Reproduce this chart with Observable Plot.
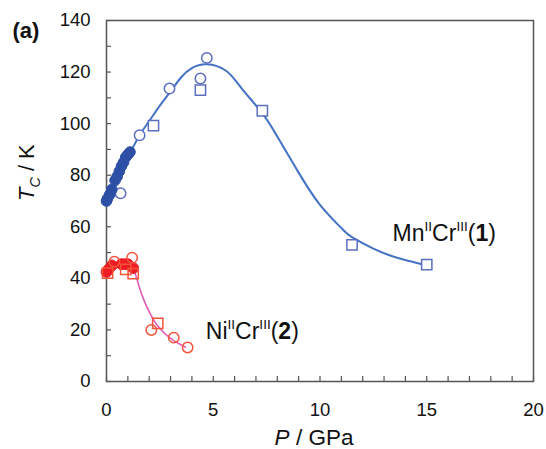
<!DOCTYPE html>
<html>
<head>
<meta charset="utf-8">
<script src="https://cdn.jsdelivr.net/npm/d3@7"></script>
<script src="https://cdn.jsdelivr.net/npm/@observablehq/plot@0.6"></script>
<style>
  html, body { margin: 0; padding: 0; background: #fff; }
</style>
</head>
<body>
<div id="chart"></div>
<script>
// ---- data ----
// Mn(II)Cr(III) (1)
const mnFilledP = [0, 0.05, 0.15, 0.25, 0.4, 0.5, 0.6, 0.7, 0.8, 0.9, 1.0, 1.1];
const mnFilledT = [70, 71, 72.5, 74.5, 78, 79.5, 81.5, 83.5, 85, 87, 88, 89];
const mnCircleP = [0.66, 1.55, 2.95, 4.4, 4.7];
const mnCircleT = [73, 95.5, 113.6, 117.5, 125.5];
const mnSquareP = [2.2, 4.4, 7.3, 11.5, 15];
const mnSquareT = [99.2, 113, 105, 53, 45.3];
const mnFitP = [0, 0.5, 1, 1.55, 2, 2.5, 3, 3.5, 4, 4.7, 5.6, 6.3, 7.3, 8, 9, 10, 11, 11.5, 12.5, 13.5, 15];
const mnFitT = [70, 79, 87, 95.5, 101, 107, 112.5, 118, 121.5, 123, 120.5, 114, 104, 95, 81, 68.5, 59.5, 56, 51.5, 48.3, 45];
// Ni(II)Cr(III) (2)
const niFilledP = [0, 0.1, 0.25, 0.7, 0.85, 1.0, 1.25];
const niFilledT = [42.5, 43.5, 45, 45.5, 45.5, 45.5, 44];
const niCircleP = [0.37, 1.2, 2.1, 3.15, 3.8];
const niCircleT = [46.5, 48, 20, 17, 13.2];
const niSquareP = [0.05, 0.9, 1.25, 2.4];
const niSquareT = [42, 43.5, 41.8, 22.5];
const niFitP = [0, 0.6, 1.2, 1.5, 1.83, 2.1, 2.4, 3, 3.7];
const niFitT = [43.5, 44.5, 44, 37.5, 30, 25.5, 21.5, 16.7, 13.3];
// axes
const xTicks = [0, 5, 10, 15, 20];
const yTicks = [0, 20, 40, 60, 80, 100, 120, 140];
const xMinor = d3.range(0, 21, 1);
const yMinor = d3.range(0, 141, 10);
// labels: [text pieces, style] ; n normal, sup superscript, b bold, i italic, isub italic subscript
const mnLabel = [["Mn","n"],["II","sup"],["Cr","n"],["III","sup"],["(","n"],["1","b"],[")","n"]];
const niLabel = [["Ni","n"],["II","sup"],["Cr","n"],["III","sup"],["(","n"],["2","b"],[")","n"]];
const yLabel = [["T","i"],["C","isub"],[" / K","n"]];
const xLabel = [["P","i"],[" / GPa","n"]];
const annotations = [
  {P: 13.4, T: 57.5, parts: mnLabel},
  {P: 4.65, T: 19.5, parts: niLabel}
];

const pts = (P, T) => P.map((p, i) => ({P: p, T: T[i]}));
const plain = parts => parts.map(d => d[0]).join("");

const blue = "#4472c4", blueDark = "#2d50a6", blueOpen = "#5b6ec0";
const red = "#ee1c24", redOpen = "#f2553a", pink = "#e05cb4";

const chart = Plot.plot({
  width: 546,
  height: 449,
  marginLeft: 106,
  marginRight: 13,
  marginTop: 20,
  marginBottom: 68,
  style: {fontFamily: "'Liberation Sans', Arial, sans-serif", fontSize: "18px", background: "#fff", color: "#000", overflow: "visible"},
  x: {domain: [0, 20]},
  y: {domain: [0, 140]},
  marks: [
    Plot.axisX(xMinor, {tickSize: -5, tickFormat: () => "", label: null, stroke: "#555", strokeWidth: 1.2}),
    Plot.axisY(yMinor, {tickSize: -5, tickFormat: () => "", label: null, stroke: "#555", strokeWidth: 1.2}),
    Plot.axisX(xTicks, {tickSize: 0, tickPadding: 21, label: null, fontSize: 18.5, fill: "#111"}),
    Plot.axisY(yTicks, {tickSize: 0, tickPadding: 16, label: null, fontSize: 18.5, fill: "#111"}),
    Plot.frame({stroke: "#555", strokeWidth: 1.5}),
    Plot.line(pts(mnFitP, mnFitT), {x: "P", y: "T", curve: "natural", stroke: blue, strokeWidth: 2}),
    Plot.line(pts(niFitP, niFitT), {x: "P", y: "T", curve: "natural", stroke: pink, strokeWidth: 1.6}),
    Plot.dot(pts(mnCircleP, mnCircleT), {x: "P", y: "T", r: 5.2, stroke: blueOpen, strokeWidth: 1.5, fill: "#fff"}),
    Plot.dot(pts(mnFilledP, mnFilledT), {x: "P", y: "T", r: 5.3, fill: blueDark, stroke: blueDark, strokeWidth: 1}),
    Plot.dot(pts(mnSquareP, mnSquareT), {x: "P", y: "T", r: 5.8, symbol: "square", stroke: blueOpen, strokeWidth: 1.5, fill: "#fff"}),
    Plot.dot(pts(niFilledP, niFilledT), {x: "P", y: "T", r: 5.4, fill: red, stroke: red, strokeWidth: 1}),
    Plot.dot(pts(niCircleP, niCircleT), {x: "P", y: "T", r: 5.2, stroke: redOpen, strokeWidth: 1.5, fill: "none"}),
    Plot.dot(pts(niSquareP, niSquareT), {x: "P", y: "T", r: 5.8, symbol: "square", stroke: redOpen, strokeWidth: 1.5, fill: "none"}),
    Plot.text(annotations, {x: "P", y: "T", text: d => plain(d.parts), textAnchor: "start", lineAnchor: "middle", fontSize: 23, fill: "#111"}),
    Plot.text([plain(yLabel)], {frameAnchor: "left", dx: -80, rotate: -90, lineAnchor: "middle", fontSize: 22, fill: "#111"}),
    Plot.text([plain(xLabel)], {frameAnchor: "bottom", dx: -6, dy: 56, lineAnchor: "middle", fontSize: 22.5, fill: "#111"}),
    Plot.text(["(a)"], {frameAnchor: "top-left", dx: -94, dy: 10, textAnchor: "start", lineAnchor: "middle", fontSize: 22, fontWeight: "bold", fill: "#111"})
  ]
});

// Rich-text formatting (superscripts, italics, bold) for the label strings
function richify(svg, parts) {
  const target = plain(parts);
  svg.querySelectorAll("text").forEach(t => {
    if (t.textContent !== target) return;
    const fs = parseFloat(t.getAttribute("font-size") || getComputedStyle(t).fontSize) || 22;
    while (t.firstChild) t.removeChild(t.firstChild);
    let shift = 0;
    const ns = "http://www.w3.org/2000/svg";
    parts.forEach(([s, kind]) => {
      const ts = document.createElementNS(ns, "tspan");
      ts.textContent = s;
      let want = 0;
      if (kind === "sup") { want = -0.42 * fs; ts.setAttribute("font-size", (0.62 * fs).toFixed(1)); }
      if (kind === "isub") { want = 0.28 * fs; ts.setAttribute("font-size", (0.65 * fs).toFixed(1)); ts.setAttribute("font-style", "italic"); }
      if (kind === "i") ts.setAttribute("font-style", "italic");
      if (kind === "b") ts.setAttribute("font-weight", "bold");
      const dy = want - shift;
      if (dy !== 0) ts.setAttribute("dy", dy.toFixed(2));
      shift = want;
      t.appendChild(ts);
    });
  });
}
[mnLabel, niLabel, yLabel, xLabel].forEach(p => richify(chart, p));

document.getElementById("chart").appendChild(chart);
</script>
</body>
</html>
